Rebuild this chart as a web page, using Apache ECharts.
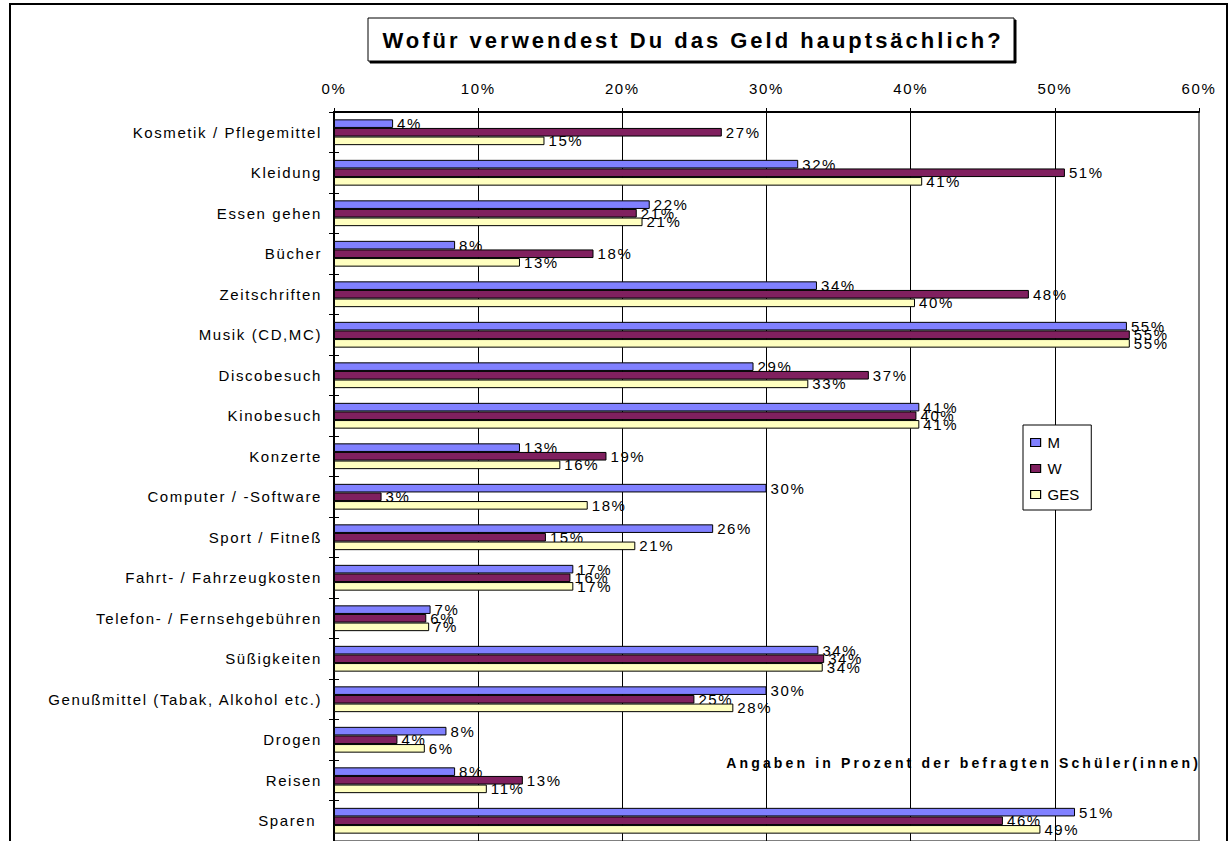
<!DOCTYPE html>
<html>
<head>
<meta charset="utf-8">
<script src="https://cdn.jsdelivr.net/npm/echarts@6/dist/echarts.min.js"></script>
<style>
  html, body { margin: 0; padding: 0; background: #fff; }
  #chart { width: 1231px; height: 841px; }
  #chart text[style*="Arial"] { letter-spacing: 1.6px; }
  #chart text[style*="Helvetica"] { letter-spacing: 3.15px; }
  #chart text[style*="22px"] { letter-spacing: 3px; }
</style>
</head>
<body>
<div id="chart"></div>
<script>
const categories = ['Kosmetik / Pflegemittel', 'Kleidung', 'Essen gehen', 'Bücher', 'Zeitschriften',
  'Musik (CD,MC)', 'Discobesuch', 'Kinobesuch', 'Konzerte', 'Computer / -Software', 'Sport / Fitneß',
  'Fahrt- / Fahrzeugkosten', 'Telefon- / Fernsehgebühren', 'Süßigkeiten',
  'Genußmittel (Tabak, Alkohol etc.)', 'Drogen', 'Reisen', 'Sparen '];
const seriesNames = ['M', 'W', 'GES'];
const valuesM = [4.1, 32.2, 21.9, 8.4, 33.5, 55.0, 29.1, 40.6, 12.9, 30.0, 26.3, 16.6, 6.7, 33.6, 30.0, 7.8, 8.4, 51.4];
const valuesW = [26.9, 50.7, 21.0, 18.0, 48.2, 55.2, 37.1, 40.4, 18.9, 3.3, 14.7, 16.4, 6.4, 34.0, 25.0, 4.4, 13.1, 46.4];
const valuesGES = [14.6, 40.8, 21.4, 12.9, 40.3, 55.2, 32.9, 40.6, 15.7, 17.6, 20.9, 16.6, 6.6, 33.9, 27.7, 6.3, 10.6, 49.0];
const xTickValues = [0, 10, 20, 30, 40, 50, 60];
const titleText = 'Wofür verwendest Du das Geld hauptsächlich?';
const noteText = 'Angaben in Prozent der befragten Schüler(innen)';

const colors = ['#8080FF', '#80205F', '#FFFFC0'];
const labelFont = 'Arial';

const chart = echarts.init(document.getElementById('chart'), null, { renderer: 'svg' });

function makeSeries(name, data, idx) {
  return {
    name: name,
    type: 'bar',
    data: data,
    z: 2 + idx,
    barWidth: 8.6,
    barGap: '0%',
    itemStyle: { color: colors[idx], borderColor: '#000', borderWidth: 1 },
    label: {
      show: true,
      position: 'right',
      distance: 4,
      color: '#000',
      fontSize: 15,
      fontFamily: labelFont,
      formatter: p => Math.round(p.value) + '%'
    },
    emphasis: { disabled: true },
    animation: false
  };
}

chart.setOption({
  animation: false,
  backgroundColor: '#fff',
  graphic: [
    { type: 'rect', z: -10, shape: { x: 10, y: 4, width: 1217, height: 900 },
      style: { fill: '#fff', stroke: '#000', lineWidth: 2 } },
    { type: 'rect', z: 10, shape: { x: 368, y: 18, width: 646, height: 43 },
      style: { fill: '#fff', stroke: '#000', lineWidth: 1, shadowColor: '#000', shadowOffsetX: 2, shadowOffsetY: 2, shadowBlur: 0 } },
    { type: 'text', z: 11, x: 693, y: 40,
      style: { text: titleText, fill: '#000', font: 'bold 22px "Liberation Sans"', textAlign: 'center', textVerticalAlign: 'middle' } },
    { type: 'text', z: 11, x: 1201, y: 763,
      style: { text: noteText, fill: '#000', font: 'bold 14px Helvetica, "Liberation Sans"', textAlign: 'right', textVerticalAlign: 'middle' } }
  ],
  legend: {
    data: seriesNames,
    orient: 'vertical',
    left: 1023,
    top: 425,
    padding: [10, 12, 8, 7],
    itemGap: 11,
    itemWidth: 10,
    itemHeight: 8,
    icon: 'rect',
    backgroundColor: '#fff',
    borderColor: '#000',
    borderWidth: 1,
    textStyle: { fontSize: 15, fontFamily: 'Liberation Sans', color: '#000', padding: [0, 0, 0, 2] },
    itemStyle: { borderColor: '#000', borderWidth: 1.2 },
    z: 20
  },
  grid: {
    left: 334,
    top: 112,
    width: 865,
    height: 730,
    show: true,
    backgroundColor: 'transparent',
    borderColor: '#808080',
    borderWidth: 2
  },
  xAxis: {
    type: 'value',
    position: 'top',
    min: xTickValues[0],
    max: xTickValues[xTickValues.length - 1],
    interval: 10,
    axisLine: { show: true, lineStyle: { color: '#000', width: 2 } },
    axisTick: { show: true, length: 4, lineStyle: { color: '#000', width: 1 } },
    splitLine: { show: true, showMaxLine: false, lineStyle: { color: '#000', width: 1 } },
    axisLabel: { formatter: '{value}%', color: '#000', fontSize: 15, fontFamily: labelFont, margin: 16 }
  },
  yAxis: [
    {
      type: 'category',
      data: categories,
      inverse: true,
      position: 'left',
      axisLine: { show: true, lineStyle: { color: '#000', width: 2 } },
      axisTick: { show: true, length: 5, lineStyle: { color: '#000', width: 1 } },
      axisLabel: { color: '#000', fontSize: 15, fontFamily: labelFont, margin: 12 },
      splitLine: { show: false }
    },
    {
      type: 'category',
      data: categories,
      inverse: true,
      position: 'left',
      offset: 0,
      axisLine: { show: false },
      axisTick: { show: true, inside: true, length: 5, lineStyle: { color: '#000', width: 1 } },
      axisLabel: { show: false },
      splitLine: { show: false }
    }
  ],
  series: [
    makeSeries(seriesNames[0], valuesM, 0),
    makeSeries(seriesNames[1], valuesW, 1),
    makeSeries(seriesNames[2], valuesGES, 2)
  ]
});
</script>
</body>
</html>
